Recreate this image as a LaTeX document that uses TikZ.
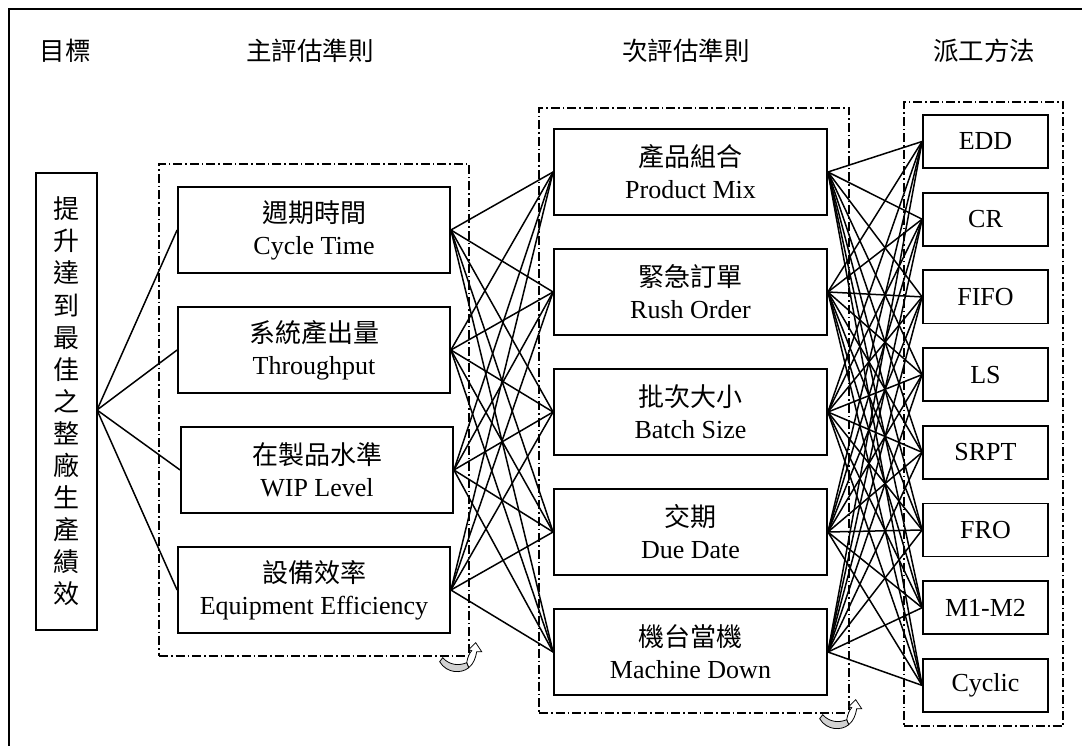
\documentclass[tikz,border=0pt]{standalone}
\usepackage{fontspec}
\setmainfont{Liberation Serif}
\newfontfamily\cjk{Noto Sans CJK TC}
\begin{document}
\begin{tikzpicture}[x=1pt,y=-1pt,
  box/.style={draw, line width=1.8pt, inner sep=0pt, align=center,
    font=\fontsize{26}{32}\selectfont},
  critbox/.style={box, minimum width=272pt, minimum height=86pt},
  rulebox/.style={box, minimum width=125pt, minimum height=53pt},
  groupframe/.style={draw, line width=1.4pt, inner sep=0pt,
    dash pattern=on 9pt off 3pt on 1.5pt off 3pt},
  head/.style={font=\fontsize{25.5}{30}\selectfont\cjk},
  link/.style={line width=1.5pt},
  turnarrow/.pic={
    \filldraw[line width=0.8pt, fill=white]
      (-3,6) .. controls (-2,0) and (0,-4) .. (2,-6) -- (-1,-7) -- (6,-14)
      -- (12,-5) -- (7,-5) .. controls (6,1) and (4,7) .. (-1,11) -- cycle;
    \filldraw[line width=0.8pt, fill=gray!35]
      (-30,5) .. controls (-23,17) and (-8,17) .. (-1,11)
      -- (-3,6) .. controls (-10,9) and (-20,9) .. (-27,1) -- cycle;
  }]
\useasboundingbox (0,0) rectangle (1082,746);

% frame lines along the top and the left
\draw[line width=2pt] (8.5,746) -- (8.5,9) -- (1082,9);

% column headings
\node[head] (hgoal) at (65,51) {目標};
\node[head] (hmain) at (310,51) {主評估準則};
\node[head] (hsub)  at (686,51) {次評估準則};
\node[head] (hrule) at (984,51) {派工方法};

% group frames
\node[groupframe, minimum width=310pt, minimum height=492pt] (fmain) at (314,410) {};
\node[groupframe, minimum width=310pt, minimum height=605pt] (fsub)  at (694,410.5) {};
\node[groupframe, minimum width=159pt, minimum height=624pt] (frule) at (983.5,414) {};

% goal
\node[box, minimum width=61pt, minimum height=457pt,
      font=\fontsize{26}{32.1}\selectfont\cjk] (goal) at (66.5,401.5)
  {提\\升\\達\\到\\最\\佳\\之\\整\\廠\\生\\產\\績\\效};
\coordinate (gout) at (97,410);

% main criteria
\node[critbox] (m1) at (314,230) {{\cjk 週期時間}\\Cycle Time};
\node[critbox] (m2) at (314,350) {{\cjk 系統產出量}\\Throughput};
\node[critbox] (m3) at (317,470) {{\cjk 在製品水準}\\WIP Level};
\node[critbox] (m4) at (314,590) {{\cjk 設備效率}\\Equipment Efficiency};

% sub criteria
\node[critbox, minimum width=273pt] (s1) at (690.5,172) {{\cjk 產品組合}\\Product Mix};
\node[critbox, minimum width=273pt] (s2) at (690.5,292) {{\cjk 緊急訂單}\\Rush Order};
\node[critbox, minimum width=273pt] (s3) at (690.5,412) {{\cjk 批次大小}\\Batch Size};
\node[critbox, minimum width=273pt] (s4) at (690.5,532) {{\cjk 交期}\\Due Date};
\node[critbox, minimum width=273pt] (s5) at (690.5,652) {{\cjk 機台當機}\\Machine Down};

% dispatching rules
\node[rulebox] (d1) at (985.5,141.5) {EDD};
\node[rulebox] (d2) at (985.5,219.2) {CR};
\node[rulebox] (d3) at (985.5,296.9) {FIFO};
\node[rulebox] (d4) at (985.5,374.6) {LS};
\node[rulebox] (d5) at (985.5,452.3) {SRPT};
\node[rulebox] (d6) at (985.5,530.0) {FRO};
\node[rulebox] (d7) at (985.5,607.7) {M1-M2};
\node[rulebox] (d8) at (985.5,685.4) {Cyclic};

% links
\foreach \b in {m1,m2,m3,m4} \draw[link] (gout) -- (\b.west);
\foreach \a in {m1,m2,m3,m4}
  \foreach \b in {s1,s2,s3,s4,s5}
    \draw[link] (\a.east) -- (\b.west);
\foreach \a in {s1,s2,s3,s4,s5}
  \foreach \b in {d1,d2,d3,d4,d5,d6,d7,d8}
    \draw[link] (\a.east) -- (\b.west);

% curled arrows at frame corners
\pic at (fmain.south east) {turnarrow};
\pic at (fsub.south east) {turnarrow};
\end{tikzpicture}
\end{document}
